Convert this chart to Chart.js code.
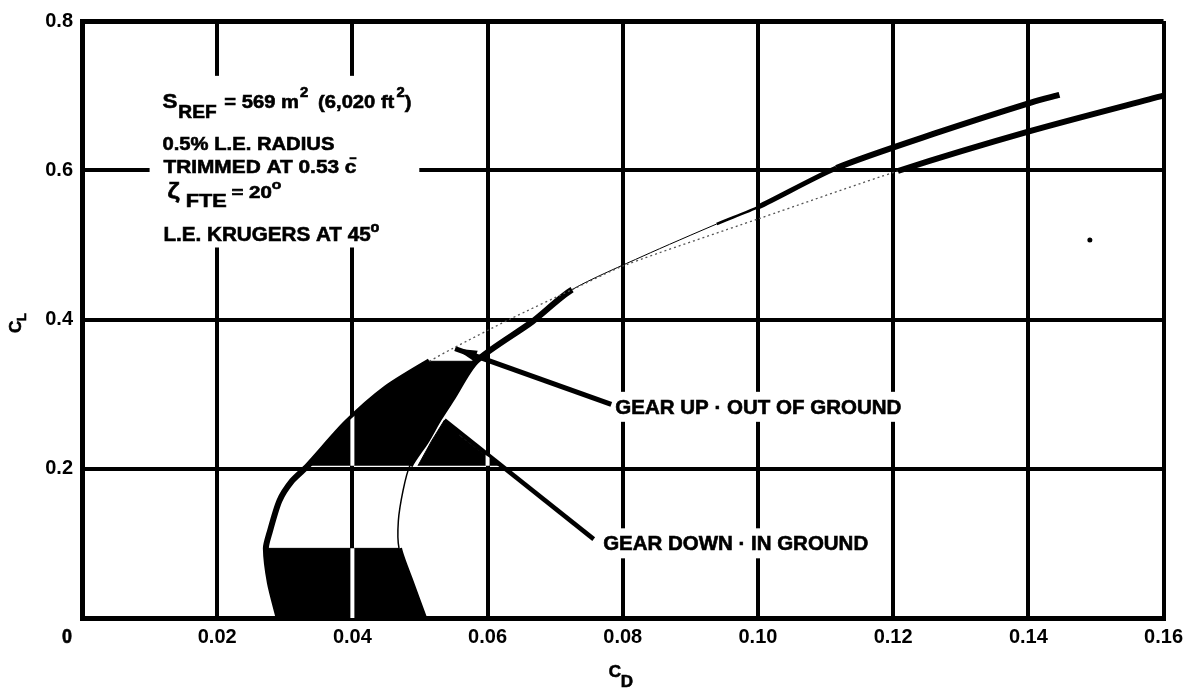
<!DOCTYPE html>
<html>
<head>
<meta charset="utf-8">
<script src="https://cdn.jsdelivr.net/npm/chart.js@4.4.0/dist/chart.umd.min.js"></script>
<style>
html,body{margin:0;padding:0;background:#fff;}
#wrap{width:1190px;height:689px;position:relative;}
</style>
</head>
<body>
<div id="wrap"><canvas id="c" width="1190" height="689"></canvas></div>
<script>
// ---------------- data ----------------
const xTickValues = [0, 0.02, 0.04, 0.06, 0.08, 0.10, 0.12, 0.14, 0.16];
const xTickLabels = ['0', '0.02', '0.04', '0.06', '0.08', '0.10', '0.12', '0.14', '0.16'];
const yTickValues = [0, 0.2, 0.4, 0.6, 0.8];
const yTickLabels = ['', '0.2', '0.4', '0.6', '0.8'];

// Gear up - out of ground (C_L, C_D)
const gearUpCL = [0, 0.047, 0.0933, 0.113, 0.157, 0.184, 0.204, 0.2613, 0.308, 0.344, 0.361, 0.40, 0.44, 0.473, 0.535, 0.599, 0.653, 0.70];
const gearUpCD = [0.0291, 0.0278, 0.0272, 0.0277, 0.0292, 0.0311, 0.0334, 0.0391, 0.0450, 0.0514, 0.0548, 0.0632, 0.0725, 0.0804, 0.1001, 0.1207, 0.1405, 0.1600];

// Gear down - in ground (C_L, C_D)
const gearDownCL = [0, 0.047, 0.0933, 0.13, 0.171, 0.204, 0.237, 0.267, 0.295, 0.344, 0.397, 0.44, 0.485, 0.528, 0.551, 0.603, 0.65, 0.691, 0.701];
const gearDownCD = [0.0506, 0.0487, 0.0469, 0.0468, 0.0475, 0.0485, 0.0509, 0.0528, 0.0548, 0.0583, 0.0666, 0.0725, 0.0830, 0.0939, 0.1001, 0.1116, 0.1264, 0.1405, 0.1446];

// shaded C_L bands between the two polars (as printed)
const shadeBandLo = [0, 0.204];
const shadeBandHi = [0.0933, 0.344];

// dark wedge beside the gear-down curve
const wedgeCD = [0.0497, 0.0517, 0.0536, 0.0558, 0.0591, 0.0621];
const wedgeCL = [0.204, 0.237, 0.265, 0.245, 0.222, 0.204];

// leader arrows (label end -> curve)
const arrowUpCD = [0.0783, 0.0552];
const arrowUpCL = [0.2863, 0.361];
const arrowDownCD = [0.0757, 0.0536];
const arrowDownCL = [0.1057, 0.265];

// isolated dot
const dotCD = [0.1491];
const dotCL = [0.5067];

// ---------------- helpers ----------------
const FONT = '"Liberation Sans", Arial, Helvetica, sans-serif';
function pts(cds, cls) { return cds.map((x, i) => ({x: x, y: cls[i]})); }
function bandPolygon(lo, hi) {
  const inBand = p => p.y >= lo - 1e-9 && p.y <= hi + 1e-9;
  const up = pts(gearUpCD, gearUpCL).filter(inBand);
  const dn = pts(gearDownCD, gearDownCL).filter(inBand).reverse();
  return up.concat(dn);
}
function inRange(ctx, lo, hi) {
  const a = ctx.p0.parsed.y, b = ctx.p1.parsed.y;
  return a >= lo - 1e-9 && b <= hi + 1e-9;
}

const shadeSets = shadeBandLo.map((lo, i) => ({
  data: bandPolygon(lo, shadeBandHi[i]),
  fill: 'shape', backgroundColor: '#000', borderColor: '#000', borderWidth: 1,
  pointRadius: 0, tension: 0, order: 5, knockoutGrid: true
}));

// ---------------- text helpers ----------------
// draws a run of text parts, stretched horizontally to a target width
function richLine(ctx, x, y, parts, width, heavy) {
  let total = 0;
  for (const p of parts) {
    ctx.font = 'bold ' + p.size + 'px ' + FONT;
    total += ctx.measureText(p.t).width + (p.gap || 0);
  }
  const s = width ? width / total : 1;
  ctx.save();
  ctx.translate(x, y);
  ctx.scale(s, 1);
  let cx = 0;
  ctx.lineWidth = heavy || 0.6;
  ctx.strokeStyle = '#000';
  for (const p of parts) {
    ctx.font = 'bold ' + p.size + 'px ' + FONT;
    ctx.fillText(p.t, cx, p.dy || 0);
    ctx.strokeText(p.t, cx, p.dy || 0);
    cx += ctx.measureText(p.t).width + (p.gap || 0);
  }
  ctx.restore();
  return total * s;
}

const notesPlugin = {
  id: 'notes',
  beforeDatasetsDraw(chart) {
    const {ctx, scales: {x, y}} = chart;
    ctx.save();
    // white panel behind the note block
    const x0 = x.getPixelForValue(0.0100), x1 = x.getPixelForValue(0.0499);
    const y0 = y.getPixelForValue(0.7265), y1 = y.getPixelForValue(0.4965);
    ctx.fillStyle = '#fff';
    ctx.fillRect(x0, y0, x1 - x0, y1 - y0);
    ctx.fillStyle = '#000';
    ctx.textBaseline = 'alphabetic';
    ctx.textAlign = 'left';
    const tx = x.getPixelForValue(0.0119);
    richLine(ctx, tx, y.getPixelForValue(0.684), [
      {t: 'S', size: 21, gap: 1},
      {t: 'REF', size: 18, dy: 10, gap: 2},
      {t: ' = 569 m', size: 19, gap: 1},
      {t: '2', size: 14, dy: -11, gap: 4},
      {t: ' (6,020 ft', size: 19, gap: 2},
      {t: '2', size: 14, dy: -11},
      {t: ')', size: 19}
    ], 249);
    richLine(ctx, tx, y.getPixelForValue(0.6267), [{t: '0.5% L.E. RADIUS', size: 19}], 172);
    richLine(ctx, tx + 1, y.getPixelForValue(0.596), [{t: 'TRIMMED AT 0.53 c\u0304', size: 19}], 193);
    richLine(ctx, tx + 5, y.getPixelForValue(0.563), [
      {t: '\u03B6', size: 22, gap: 5},
      {t: 'FTE', size: 18, dy: 9, gap: 4},
      {t: '= 20', size: 17},
      {t: 'o', size: 13, dy: -9}
    ], 114);
    richLine(ctx, tx + 1, y.getPixelForValue(0.5053), [
      {t: 'L.E. KRUGERS AT 45', size: 20},
      {t: 'o', size: 14, dy: -9}
    ], 216);

    // curve labels with white backing that breaks the grid
    const labels = [
      {t: 'GEAR UP \u00B7 OUT OF GROUND', cd: 0.0789, cl: 0.2736, w: 286},
      {t: 'GEAR DOWN \u00B7 IN GROUND', cd: 0.0771, cl: 0.0907, w: 265}
    ];
    for (const L of labels) {
      const lx = x.getPixelForValue(L.cd), ly = y.getPixelForValue(L.cl);
      ctx.fillStyle = '#fff';
      ctx.fillRect(lx - 3, ly - 22, L.w + 8, 30);
      ctx.fillStyle = '#000';
      richLine(ctx, lx, ly, [{t: L.t, size: 20}], L.w);
    }
    ctx.restore();
  },
  afterDatasetsDraw(chart) {
    const {ctx, scales: {x, y}} = chart;
    // white grid lines through the dark shaded areas
    chart.data.datasets.forEach((ds, i) => {
      if (!ds.knockoutGrid) return;
      const els = chart.getDatasetMeta(i).data;
      if (!els.length) return;
      ctx.save();
      ctx.beginPath();
      els.forEach((e, k) => k ? ctx.lineTo(e.x, e.y) : ctx.moveTo(e.x, e.y));
      ctx.closePath();
      ctx.clip();
      ctx.strokeStyle = '#fff';
      ctx.lineWidth = 4;
      xTickValues.forEach(v => {
        const px = x.getPixelForValue(v);
        ctx.beginPath(); ctx.moveTo(px, chart.chartArea.top); ctx.lineTo(px, chart.chartArea.bottom); ctx.stroke();
      });
      ctx.restore();
    });
    // arrow heads
    chart.data.datasets.forEach((ds, i) => {
      if (!ds.arrowHead) return;
      const els = chart.getDatasetMeta(i).data;
      const a = els[els.length - 2], b = els[els.length - 1];
      const ang = Math.atan2(b.y - a.y, b.x - a.x);
      const L = 22, W = 5.5;
      ctx.save();
      ctx.translate(b.x, b.y);
      ctx.rotate(ang);
      ctx.fillStyle = '#000';
      ctx.beginPath();
      ctx.moveTo(0, 0); ctx.lineTo(-L, -W); ctx.lineTo(-L, W); ctx.closePath();
      ctx.fill();
      ctx.restore();
    });
  },
  afterDraw(chart) {
    const {ctx, scales: {x, y}} = chart;
    ctx.save();
    ctx.fillStyle = '#000';
    ctx.textBaseline = 'alphabetic';
    ctx.textAlign = 'left';
    // origin label
    richLine(ctx, x.getPixelForValue(0) - 20, 643, [{t: xTickLabels[0], size: 20}], 10);
    // x title C_D
    const cx = x.getPixelForValue(0.08) - 14;
    richLine(ctx, cx, 677, [{t: 'C', size: 17}]);
    richLine(ctx, cx + 12, 687, [{t: 'D', size: 17}]);
    // y title C_L (rotated)
    ctx.translate(21, y.getPixelForValue(0.39));
    ctx.rotate(-Math.PI / 2);
    richLine(ctx, -6, 0, [{t: 'C', size: 17}]);
    richLine(ctx, 6, 5, [{t: 'L', size: 13}]);
    ctx.restore();
  }
};

// ---------------- chart ----------------
const curveStyle = {borderColor: '#000', borderWidth: 6, pointRadius: 0, tension: 0.25, fill: false, borderCapStyle: 'butt', borderJoinStyle: 'round'};

new Chart(document.getElementById('c'), {
  type: 'line',
  data: {
    datasets: [
      Object.assign({}, curveStyle, {
        label: 'Gear up - out of ground',
        data: pts(gearUpCD, gearUpCL),
        order: 1,
        segment: {
          borderWidth: ctx => inRange(ctx, 0.344, 0.599) ? 1.3 : undefined,
          borderDash: ctx => inRange(ctx, 0.344, 0.599) ? [2, 3] : undefined,
          borderColor: ctx => inRange(ctx, 0.344, 0.599) ? '#555' : undefined
        }
      }),
      Object.assign({}, curveStyle, {
        label: 'Gear down - in ground',
        data: pts(gearDownCD, gearDownCL),
        order: 1,
        segment: {
          borderWidth: ctx => inRange(ctx, 0.0933, 0.204) ? 1.5 :
                              inRange(ctx, 0.44, 0.528) ? 1 :
                              inRange(ctx, 0.528, 0.551) ? 2.5 :
                              inRange(ctx, 0.551, 0.603) ? 5 : undefined
        }
      }),
      ...shadeSets,
      {
        label: 'wedge', data: pts(wedgeCD, wedgeCL), fill: 'shape', backgroundColor: '#000',
        borderColor: '#000', borderWidth: 1, pointRadius: 0, tension: 0, order: 5, knockoutGrid: true
      },
      {
        label: 'arrow up', data: pts(arrowUpCD, arrowUpCL), borderColor: '#000', borderWidth: 5,
        pointRadius: 0, tension: 0, fill: false, order: 2, arrowHead: true, borderCapStyle: 'butt'
      },
      {
        label: 'arrow down', data: pts(arrowDownCD, arrowDownCL), borderColor: '#000', borderWidth: 4.5,
        pointRadius: 0, tension: 0, fill: false, order: 2, borderCapStyle: 'butt'
      },
      {
        label: 'dot', data: pts(dotCD, dotCL), showLine: false, pointRadius: 2.5,
        pointBackgroundColor: '#000', pointBorderWidth: 0, order: 1
      }
    ]
  },
  options: {
    responsive: false,
    animation: false,
    devicePixelRatio: 1,
    layout: {padding: {top: 18, right: 24, bottom: 0, left: 0}},
    plugins: {legend: {display: false}, tooltip: {enabled: false}, title: {display: false}},
    scales: {
      x: {
        type: 'linear', min: 0, max: 0.16,
        afterBuildTicks: s => { s.ticks = xTickValues.map(v => ({value: v})); },
        afterFit: s => { s.height = 71; },
        ticks: {
          autoSkip: false, maxRotation: 0, padding: 7, color: '#000',
          font: {family: FONT, size: 20, weight: 'bold'},
          callback: (v, i) => i === 0 ? '' : xTickLabels[i]
        },
        grid: {color: '#000', lineWidth: 4, drawTicks: false},
        border: {display: true, color: '#000', width: 5}
      },
      y: {
        type: 'linear', min: 0, max: 0.8,
        afterBuildTicks: s => { s.ticks = yTickValues.map(v => ({value: v})); },
        afterFit: s => { s.width = 82; },
        ticks: {
          autoSkip: false, padding: 9, color: '#000',
          font: {family: FONT, size: 20, weight: 'bold'},
          callback: (v, i) => yTickLabels[i]
        },
        grid: {color: '#000', lineWidth: c => (c.tick && c.tick.value === 0.8) ? 5 : 4, drawTicks: false},
        border: {display: true, color: '#000', width: 5}
      }
    }
  },
  plugins: [notesPlugin]
});
</script>
</body>
</html>
